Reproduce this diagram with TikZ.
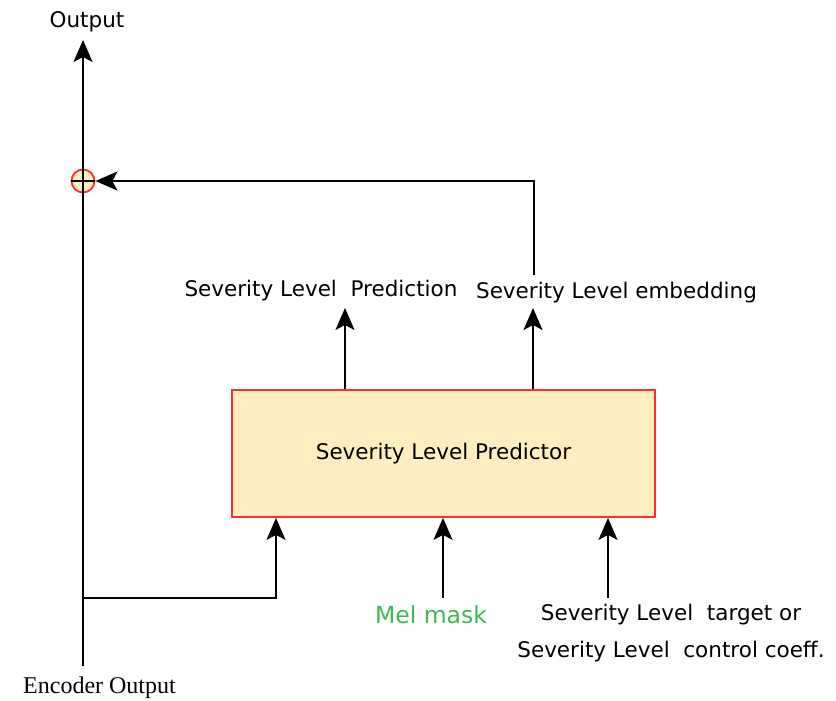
\documentclass[tikz,border=0pt]{standalone}
\usepackage{fontspec}
\setmainfont{DejaVu Sans}
\newfontfamily\encfont{Liberation Serif}
\usetikzlibrary{arrows.meta}

\begin{document}
\begin{tikzpicture}[
    x=1pt, y=-1pt,
    every node/.style={
        font=\fontsize{21.5}{37}\selectfont,
        inner sep=0pt,
        align=center
    },
    arr/.style={-{Stealth[length=22pt,width=19pt,inset=5pt]}, line width=1.9pt},
    ln/.style={line width=1.9pt}
]
\useasboundingbox (0,0) rectangle (836,701);

% 색 정의
\definecolor{boxfill}{RGB}{254,237,190}
\definecolor{boxline}{RGB}{255,45,45}
\definecolor{melgreen}{RGB}{60,185,85}

% 노드
\node (out) at (87,22) {Output};
\node[circle, draw=boxline, fill=boxfill, line width=1.8pt, minimum size=23pt] (add) at (83,181) {};

\node[draw=boxline, fill=boxfill, line width=1.8pt,
      minimum width=423pt, minimum height=127pt] (pred) at (443.5,453.5) {Severity Level Predictor};

\node (prdlbl) at (321,291) {Severity Level\ \ Prediction};
\node (emblbl) at (616.5,293) {Severity Level embedding};

\node[text=melgreen, font=\fontsize{23.5}{28}\selectfont] (mel) at (431,615) {Mel mask};
\node (tgt) at (671,633) {Severity Level\ \ target or\\Severity Level\ \ control coeff.};
\node[font=\encfont\fontsize{24}{28}\selectfont] (enc) at (99.5,688) {Encoder Output};

% 좌표
\coordinate (outtip) at (83,40);
\coordinate (encend) at (83,666);
\coordinate (split) at (83,598);
\coordinate (encin) at (276,598);
\coordinate (melin) at (443,598);
\coordinate (tgtin) at (608,598);
\coordinate (prdtip) at (345,308);
\coordinate (embtip) at (533,308);
\coordinate (embtop) at (534,275);

% 간선
\draw[ln] (encend) -- (add.south);
\draw[arr] (add.north) -- (outtip);
\draw[line width=1.4pt] (add.north) -- (add.south);
\draw[line width=1.4pt] (add.west) -- (add.east);

\draw[arr] (embtop) |- (add.east);

\draw[arr] (prdtip |- pred.north) -- (prdtip);
\draw[arr] (embtip |- pred.north) -- (embtip);

\draw[arr] (split) -- (encin) -- (encin |- pred.south);
\draw[arr] (melin) -- (melin |- pred.south);
\draw[arr] (tgtin) -- (tgtin |- pred.south);

\end{tikzpicture}
\end{document}
